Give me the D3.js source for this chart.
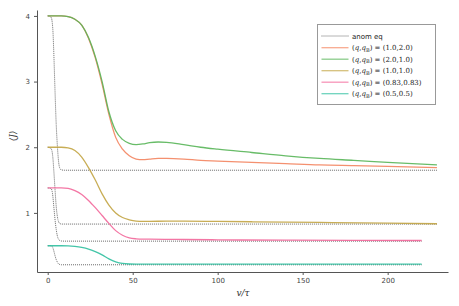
<!DOCTYPE html>
<html>
<head>
<meta charset="utf-8">
<script src="https://cdn.jsdelivr.net/npm/d3@7"></script>
<style>
  body { margin: 0; background: #fff; }
  .tick text { font: 7px "DejaVu Sans", sans-serif; fill: #444; }
  .tick line { stroke: #555; }
  .domain { stroke: #555; }
</style>
</head>
<body>
<div id="mainvis"></div>
<script>
// series
let labels = ["(1.0,2.0)", "(2.0,1.0)", "(1.0,1.0)", "(0.83,0.83)", "(0.5,0.5)"];
let colors = ["#f3845f", "#58b558", "#c2a443", "#f2679a", "#2fbf9f"];

let tA = [0, 8, 12, 16, 20, 24, 28, 32, 36, 40, 44, 48, 52, 56, 60, 65, 70, 80, 90, 100, 120, 140, 160, 180, 200, 229];
let orangeY = [4, 4, 3.99, 3.95, 3.86, 3.66, 3.36, 2.96, 2.5, 2.15, 1.97, 1.87, 1.82, 1.81, 1.82, 1.83, 1.83, 1.82, 1.80, 1.79, 1.77, 1.75, 1.73, 1.72, 1.71, 1.69];
let greenY = [4, 4, 3.99, 3.95, 3.86, 3.67, 3.38, 3.0, 2.54, 2.25, 2.12, 2.06, 2.04, 2.05, 2.07, 2.08, 2.075, 2.04, 2.0, 1.97, 1.92, 1.87, 1.83, 1.80, 1.77, 1.73];

let tY = [0, 8, 12, 16, 20, 24, 28, 32, 36, 40, 44, 48, 52, 56, 60, 70, 80, 100, 120, 160, 200, 229];
let yellowY = [2, 2, 1.99, 1.95, 1.85, 1.69, 1.5, 1.29, 1.12, 1.0, 0.93, 0.895, 0.875, 0.87, 0.87, 0.875, 0.875, 0.87, 0.865, 0.855, 0.845, 0.835];

let tP = [0, 8, 12, 16, 20, 24, 28, 32, 36, 40, 44, 48, 52, 56, 60, 70, 80, 100, 140, 180, 220];
let pinkY = [1.38, 1.38, 1.375, 1.34, 1.28, 1.19, 1.08, 0.96, 0.84, 0.73, 0.66, 0.62, 0.605, 0.6, 0.6, 0.598, 0.595, 0.59, 0.585, 0.582, 0.58];

let tT = [0, 8, 12, 16, 20, 24, 28, 32, 36, 40, 44, 48, 52, 60, 80, 120, 160, 220];
let tealY = [0.5, 0.5, 0.498, 0.49, 0.475, 0.45, 0.41, 0.36, 0.3, 0.255, 0.23, 0.222, 0.22, 0.22, 0.22, 0.22, 0.22, 0.22];

// anomalous equilibrium (dotted black)
let tE = [0, 2, 3, 3.5, 4, 4.5, 5, 5.5, 6, 6.5, 7, 8, 10];
let eq1 = [4, 3.98, 3.8, 3.5, 3.1, 2.7, 2.35, 2.1, 1.9, 1.76, 1.69, 1.655, 1.65];
let eq2 = [2, 1.98, 1.85, 1.68, 1.48, 1.28, 1.1, 0.98, 0.9, 0.86, 0.84, 0.83, 0.83];
let eq3 = [1.38, 1.37, 1.26, 1.12, 0.98, 0.85, 0.75, 0.67, 0.62, 0.595, 0.58, 0.572, 0.57];
let eq4 = [0.5, 0.5, 0.47, 0.43, 0.38, 0.33, 0.29, 0.26, 0.235, 0.222, 0.215, 0.21, 0.21];
let eqEnd = [229, 229, 220, 220];

let xTicks = [0, 50, 100, 150, 200];
let yTicks = [1, 2, 3, 4];

let W = 459, H = 306;
let svg = d3.select("#mainvis")
    .append("svg")
    .attr("width", W)
    .attr("height", H)
    .style("font-family", "DejaVu Sans");

let xScale = d3.scaleLinear()
    .domain([-6.3, 235.5])
    .range([37, 448]);

let yScale = d3.scaleLinear()
    .domain([0.1, 4.09])
    .range([272, 10]);

let xAxis = d3.axisBottom(xScale).tickValues(xTicks).tickSize(3).tickPadding(3).tickSizeOuter(0);
let yAxis = d3.axisLeft(yScale).tickValues(yTicks).tickFormat(d3.format("d")).tickSize(3).tickPadding(4).tickSizeOuter(0);

svg.append("g")
    .attr("transform", "translate(0," + 272 + ")")
    .call(xAxis);
svg.append("g")
    .attr("transform", "translate(37,0)")
    .call(yAxis);

let line = d3.line()
    .x(d => xScale(d[0]))
    .y(d => yScale(d[1]))
    .curve(d3.curveMonotoneX);

function zipSeries(t, v) {
    return t.map((x, i) => [x, v[i]]);
}

// dotted anom eq lines
let eqs = [eq1, eq2, eq3, eq4];
eqs.forEach(function(e, k) {
    let pts = zipSeries(tE, e);
    pts.push([eqEnd[k], e[e.length - 1]]);
    svg.append("path")
        .attr("d", line(pts))
        .attr("fill", "none")
        .attr("stroke", "#444")
        .attr("stroke-width", 0.8)
        .attr("stroke-dasharray", "1,1");
});

let series = [
    zipSeries(tA, orangeY),
    zipSeries(tA, greenY),
    zipSeries(tY, yellowY),
    zipSeries(tP, pinkY),
    zipSeries(tT, tealY)
];

series.forEach(function(s, k) {
    svg.append("path")
        .attr("d", line(s))
        .attr("fill", "none")
        .attr("stroke", colors[k])
        .attr("stroke-width", 1.3)
        .attr("stroke-opacity", 0.9);
});

// axis labels
svg.append("text")
    .attr("transform", "translate(16,136) rotate(-90)")
    .attr("text-anchor", "middle")
    .style("font", "italic 9px 'DejaVu Serif', serif")
    .attr("fill", "#333")
    .text("\u27E8J\u27E9");

svg.append("text")
    .attr("x", 243)
    .attr("y", 296)
    .attr("text-anchor", "middle")
    .style("font", "italic 9px 'DejaVu Serif', serif")
    .attr("fill", "#333")
    .text("v/\u03C4");

// legend
let lg = svg.append("g");
lg.append("rect")
    .attr("x", 317.5)
    .attr("y", 24.5)
    .attr("width", 118)
    .attr("height", 80)
    .attr("fill", "#fff")
    .attr("stroke", "#999")
    .attr("stroke-width", 1);

lg.append("line")
    .attr("x1", 321.5).attr("x2", 348.5)
    .attr("y1", 36).attr("y2", 36)
    .attr("stroke", "#444")
    .attr("stroke-width", 0.8)
    .attr("stroke-dasharray", "1,1");
lg.append("text")
    .attr("x", 352)
    .attr("y", 38.5)
    .style("font", "7px 'DejaVu Sans', sans-serif")
    .attr("fill", "#222")
    .text("anom eq");

labels.forEach(function(l, i) {
    let yy = 47.7 + i * 11.5;
    lg.append("line")
        .attr("x1", 321.5).attr("x2", 348.5)
        .attr("y1", yy).attr("y2", yy)
        .attr("stroke", colors[i])
        .attr("stroke-width", 1.3)
        .attr("stroke-opacity", 0.7);
    let t = lg.append("text")
        .attr("x", 352)
        .attr("y", yy + 2.5)
        .style("font", "7px 'DejaVu Serif', serif")
        .attr("fill", "#222");
    t.append("tspan").text("(");
    t.append("tspan").style("font-style", "italic").text("q");
    t.append("tspan").text(",");
    t.append("tspan").style("font-style", "italic").text("q");
    t.append("tspan").attr("dy", 1.5).style("font-size", "5px").text("B");
    t.append("tspan").attr("dy", -1.5).text(") = " + l);
});
</script>
</body>
</html>
